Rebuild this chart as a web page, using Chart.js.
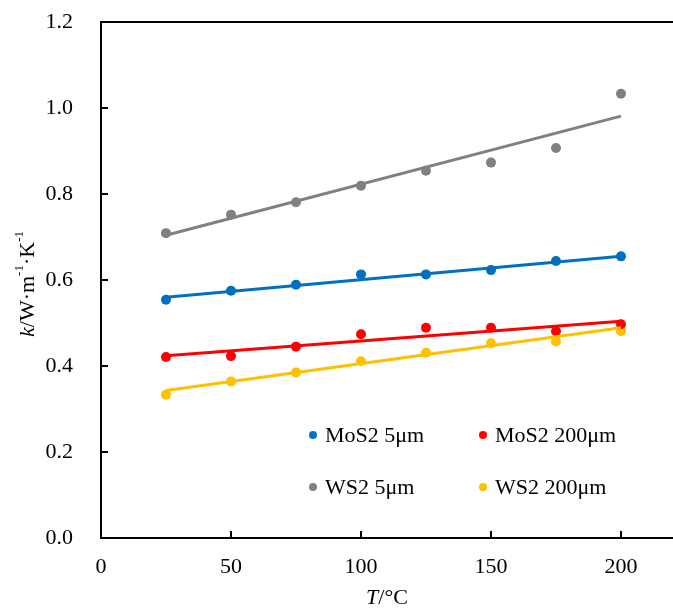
<!DOCTYPE html>
<html>
<head>
<meta charset="utf-8">
<script src="https://cdn.jsdelivr.net/npm/chart.js@4"></script>
<style>
  html, body { margin: 0; padding: 0; background: #fff; }
  #wrap { width: 673px; height: 610px; }
</style>
</head>
<body>
<div id="wrap"><canvas id="canvas" width="673" height="610"></canvas></div>
<script>
// temperatures (°C)
const temps = [25, 50, 75, 100, 125, 150, 175, 200];

// measured k (W/m/K)
const mos2_5 = [0.554, 0.575, 0.589, 0.613, 0.613, 0.623, 0.644, 0.655];
const mos2_200 = [0.421, 0.423, 0.445, 0.474, 0.489, 0.489, 0.481, 0.497];
const ws2_5 = [0.709, 0.752, 0.781, 0.819, 0.854, 0.873, 0.907, 1.033];
const ws2_200 = [0.333, 0.364, 0.385, 0.411, 0.431, 0.453, 0.457, 0.481];

// linear trend lines, read at T = 25 and T = 200
const fitX = [25, 200];
const mos2_5Fit = [0.560, 0.655];
const mos2_200Fit = [0.424, 0.504];
const ws2_5Fit = [0.704, 0.981];
const ws2_200Fit = [0.343, 0.489];

const seriesNames = ['MoS2 5μm', 'MoS2 200μm', 'WS2 5μm', 'WS2 200μm'];
const seriesColors = ['#0070C0', '#FF0000', '#808080', '#FFC000'];

const yTicks = [0, 0.2, 0.4, 0.6, 0.8, 1.0, 1.2];
const xTicks = [0, 50, 100, 150, 200];

const FONT = '"Liberation Serif", "Times New Roman", serif';

const toPoints = (xs, ys) => xs.map((x, i) => ({ x: x, y: ys[i] }));

const measured = [mos2_5, mos2_200, ws2_5, ws2_200];
const fits = [mos2_5Fit, mos2_200Fit, ws2_5Fit, ws2_200Fit];

const datasets = [];
measured.forEach((vals, i) => {
  datasets.push({
    label: seriesNames[i],
    data: toPoints(temps, vals),
    showLine: false,
    pointRadius: 5,
    pointBackgroundColor: seriesColors[i],
    pointBorderWidth: 0,
    order: 2
  });
});
fits.forEach((vals, i) => {
  datasets.push({
    label: seriesNames[i] + ' fit',
    data: toPoints(fitX, vals),
    showLine: true,
    borderColor: seriesColors[i],
    borderWidth: 3,
    pointRadius: 0,
    order: 1
  });
});

// frame, inward ticks, axis titles and the in-plot legend
const extras = {
  id: 'extras',
  afterDatasetsDraw(chart) {
    const ctx = chart.ctx;
    const a = chart.chartArea;
    const xs = chart.scales.x, ys = chart.scales.y;
    ctx.save();
    ctx.strokeStyle = '#000';
    ctx.lineWidth = 2;
    ctx.beginPath();
    ctx.moveTo(a.left, a.top);
    ctx.lineTo(a.right, a.top);
    yTicks.forEach(v => {
      const y = Math.round(ys.getPixelForValue(v));
      ctx.moveTo(a.left, y);
      ctx.lineTo(a.left + 7, y);
    });
    xTicks.forEach(v => {
      const x = Math.round(xs.getPixelForValue(v));
      ctx.moveTo(x, a.bottom);
      ctx.lineTo(x, a.bottom - 7);
    });
    ctx.stroke();

    // legend
    const legendPos = [[313, 435], [483, 435], [313, 487], [483, 487]];
    ctx.font = '22px ' + FONT;
    ctx.textBaseline = 'middle';
    ctx.textAlign = 'left';
    seriesNames.forEach((name, i) => {
      const p = legendPos[i];
      ctx.fillStyle = seriesColors[i];
      ctx.beginPath();
      ctx.arc(p[0], p[1], 4, 0, Math.PI * 2);
      ctx.fill();
      ctx.fillStyle = '#000';
      ctx.fillText(name, p[0] + 12, p[1] + 1);
    });

    // x title: T/°C
    const cx = (a.left + a.right) / 2;
    const parts = [['T', 'italic 22px ' + FONT], ['/°C', '22px ' + FONT]];
    let w = 0;
    parts.forEach(p => { ctx.font = p[1]; w += ctx.measureText(p[0]).width; });
    let x = cx - w / 2;
    parts.forEach(p => {
      ctx.font = p[1];
      ctx.fillText(p[0], x, 598);
      x += ctx.measureText(p[0]).width;
    });

    // y title: k/W·m-1·K-1
    const yParts = [
      ['k', 'italic 22px ' + FONT, 0],
      ['/W·m', '22px ' + FONT, 0],
      ['-1', '13px ' + FONT, -8],
      ['·K', '22px ' + FONT, 0],
      ['-1', '13px ' + FONT, -8]
    ];
    w = 0;
    yParts.forEach(p => { ctx.font = p[1]; w += ctx.measureText(p[0]).width; });
    ctx.translate(28, 284);
    ctx.rotate(-Math.PI / 2);
    x = -w / 2;
    yParts.forEach(p => {
      ctx.font = p[1];
      ctx.fillText(p[0], x, p[2]);
      x += ctx.measureText(p[0]).width;
    });
    ctx.restore();
  }
};

const ctx = document.getElementById('canvas').getContext('2d');
const chart = new Chart(ctx, {
  type: 'scatter',
  data: { datasets: datasets },
  options: {
    responsive: false,
    animation: false,
    layout: { autoPadding: false, padding: { left: 0, right: 0, top: 22, bottom: 0 } },
    plugins: { legend: { display: false }, tooltip: { enabled: false } },
    scales: {
      x: {
        type: 'linear',
        min: 0, max: 220,
        afterBuildTicks: s => { s.ticks = xTicks.map(v => ({ value: v })); },
        afterFit: s => { s.height = 72; s.paddingLeft = 0; s.paddingRight = 0; },
        grid: { display: false, drawTicks: false },
        border: { display: true, color: '#000', width: 2 },
        ticks: { padding: 16, color: '#000', font: { family: FONT, size: 22 } }
      },
      y: {
        min: 0, max: 1.2,
        afterBuildTicks: s => { s.ticks = yTicks.map(v => ({ value: v })); },
        afterFit: s => { s.width = 101; s.paddingTop = 0; s.paddingBottom = 0; },
        grid: { display: false, drawTicks: false },
        border: { display: true, color: '#000', width: 2 },
        ticks: {
          padding: 28, color: '#000',
          font: { family: FONT, size: 22 },
          callback: v => v.toFixed(1)
        }
      }
    }
  },
  plugins: [extras]
});
</script>
</body>
</html>
